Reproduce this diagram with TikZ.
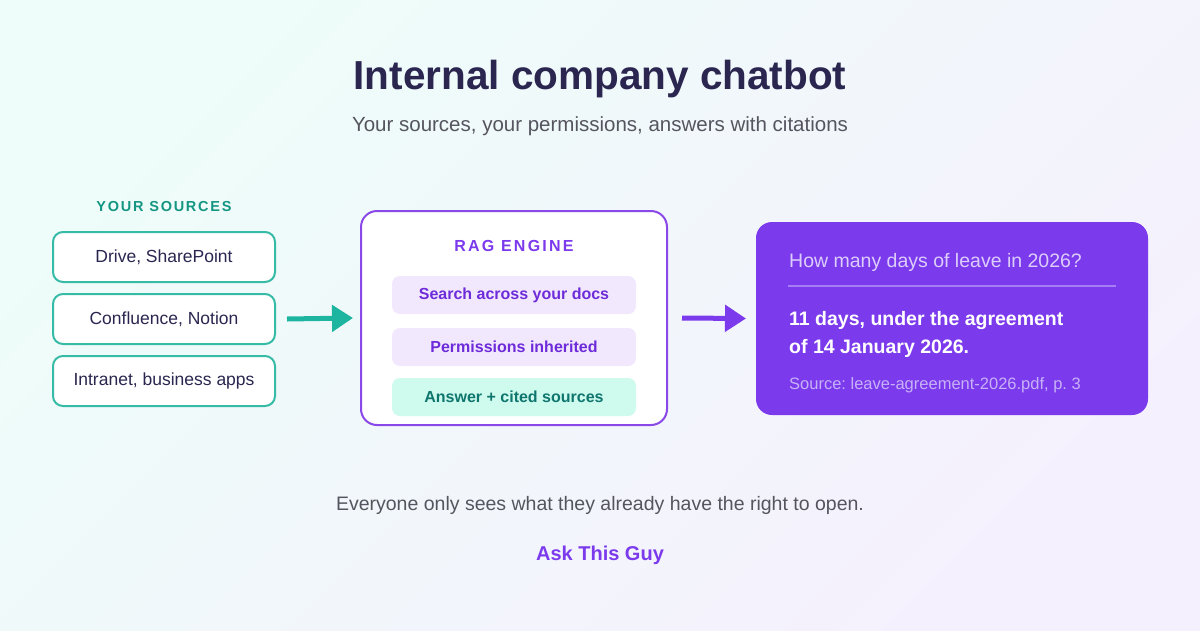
\documentclass[tikz,border=0pt]{standalone}
\usepackage{fontspec}
\setmainfont{Liberation Sans}
\usetikzlibrary{arrows.meta,positioning,calc}
\definecolor{Ink}{HTML}{2A2650}
\definecolor{Slate}{HTML}{55555F}
\definecolor{SrcTeal}{HTML}{36BBA6}
\definecolor{TealInk}{HTML}{149683}
\definecolor{ArrowTeal}{HTML}{1DB5A0}
\definecolor{EngineViolet}{HTML}{8B48E8}
\definecolor{DeepViolet}{HTML}{6D2BD9}
\definecolor{CardViolet}{HTML}{7C3AED}
\definecolor{PillViolet}{HTML}{F1E8FE}
\definecolor{PillMint}{HTML}{CFFAEE}
\definecolor{DeepTeal}{HTML}{0F766E}
\definecolor{QuesLav}{HTML}{DCCDFB}
\definecolor{SrcLav}{HTML}{C7B2F7}
\definecolor{RuleLav}{HTML}{A57DF5}
\definecolor{BgMint}{HTML}{EEFDF9}
\definecolor{BgLav}{HTML}{F5F0FD}
\tikzset{
  % Source box
  SB/.style={rectangle,rounded corners=10pt,draw=SrcTeal,line width=2pt,fill=white,
             minimum width=222pt,minimum height=50pt,outer sep=0pt,
             text=Ink,font=\fontsize{17.5}{21}\selectfont},
  % Engine pill
  PL/.style={rectangle,rounded corners=8pt,minimum width=244pt,minimum height=38pt,
             outer sep=0pt,font=\fontsize{16}{19}\selectfont\bfseries},
  pV/.style={PL,fill=PillViolet,text=DeepViolet},
  pT/.style={PL,fill=PillMint,text=DeepTeal},
  % Arrow
  arr/.style={line width=5pt,-{Triangle[length=21pt,width=26pt]}},
  % Label styles
  CAP/.style={font=\fontsize{16}{19}\selectfont\bfseries\addfontfeature{LetterSpace=14}},
  QS/.style={inner sep=0pt,text=QuesLav,font=\fontsize{19.5}{23}\selectfont},
  ANS/.style={inner sep=0pt,text=white,align=left,font=\fontsize{19.5}{28}\selectfont\bfseries},
  CS/.style={inner sep=0pt,text=SrcLav,font=\fontsize{16.5}{20}\selectfont}
}
\begin{document}
\frenchspacing
\begin{tikzpicture}[x=1pt,y=-1pt]
  \shade[top color=BgMint,middle color=white,bottom color=BgLav,shading angle=45]
    (0,0) rectangle (1200,630);
  \useasboundingbox (0,0) rectangle (1200,630);
  % title
  \node[text=Ink,font=\fontsize{40.5}{46}\selectfont\bfseries] (title) at (600,79) {Internal company chatbot};
  \node[text=Slate,font=\fontsize{20.5}{24}\selectfont] (sub) at (600,126) {Your sources, your permissions, answers with citations};
  % sources
  \node[CAP,text=TealInk,font=\fontsize{14.5}{17}\selectfont\bfseries\addfontfeature{LetterSpace=12}] (srchd) at (164,207) {YOUR SOURCES};
  \node[SB] (drive) at (164,257) {Drive, SharePoint};
  \node[SB,below=12pt of drive] (conf)  {Confluence, Notion};
  \node[SB,below=12pt of conf]  (intra) {Intranet, business apps};
  % engine
  \node[rectangle,draw=EngineViolet,line width=2pt,rounded corners=16pt,fill=white,
        minimum width=306pt,minimum height=214pt,outer sep=0pt] (rag) at (514,318) {};
  \node[CAP,text=CardViolet] (raghd) at (514,246) {RAG ENGINE};
  \node[pV] (search) at (514,295) {Search across your docs};
  \node[pV,below=14pt of search] (perm) {Permissions inherited};
  \node[pT,below=12pt of perm]   (cite) {Answer + cited sources};
  % answer card
  \node[rectangle,fill=CardViolet,rounded corners=16pt,minimum width=392pt,
        minimum height=193pt,outer sep=0pt] (card) at (952,318.5) {};
  \node[QS,anchor=west] (ques) at ([xshift=33pt,yshift=-40pt]card.north west) {How many days of leave in 2026?};
  \draw[RuleLav,line width=1.5pt] ([xshift=32pt,yshift=-64pt]card.north west) -- ([xshift=-32pt,yshift=-64pt]card.north east);
  \node[ANS,anchor=north west] (ans) at ([xshift=33pt,yshift=-89pt]card.north west) {11 days, under the agreement\\of 14 January 2026.};
  \node[CS,anchor=west] (cited) at ([xshift=33pt,yshift=-163pt]card.north west) {Source: leave-agreement-2026.pdf, p. 3};
  % arrows
  \draw[arr,draw=ArrowTeal] ([xshift=12pt]conf.east) -- ([xshift=-8pt]rag.west);
  \draw[arr,draw=CardViolet] ([xshift=15pt]rag.east) -- ([xshift=-10pt]card.west);
  % footer
  \node[text=Slate,font=\fontsize{19.5}{23}\selectfont] (note) at (600,505) {Everyone only sees what they already have the right to open.};
  \node[text=CardViolet,font=\fontsize{20}{24}\selectfont\bfseries] (brand) at (600,555) {Ask This Guy};
\end{tikzpicture}
\end{document}
